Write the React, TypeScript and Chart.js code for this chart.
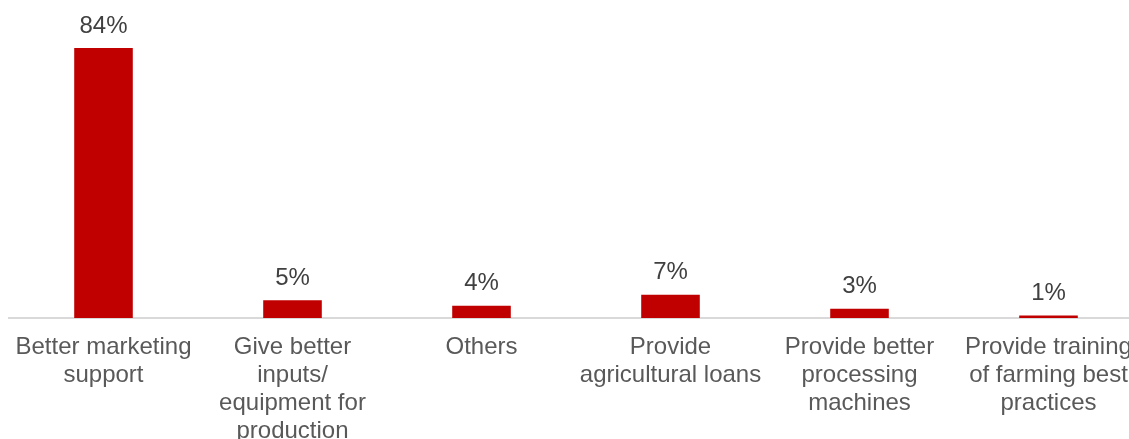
import React, { useEffect, useRef } from "react";
import { Chart, registerables } from "chart.js";

Chart.register(...registerables);

const categories: string[][] = [
  ["Better marketing", "support"],
  ["Give better", "inputs/", "equipment for", "production"],
  ["Others"],
  ["Provide", "agricultural loans"],
  ["Provide better", "processing", "machines"],
  ["Provide training", "of farming best", "practices"],
];
const values: number[] = [84, 5.5, 3.8, 7.2, 2.9, 0.8];
const valueLabels: string[] = ["84%", "5%", "4%", "7%", "3%", "1%"];

const FONT = "'Liberation Sans', Arial, sans-serif";

const valueLabelPlugin = {
  id: "valueLabels",
  afterDatasetsDraw(chart: any) {
    const ctx = chart.ctx;
    const meta = chart.getDatasetMeta(0);
    ctx.save();
    ctx.font = `24px ${FONT}`;
    ctx.fillStyle = "#404040";
    ctx.textAlign = "center";
    ctx.textBaseline = "middle";
    meta.data.forEach((bar: any, i: number) => {
      ctx.fillText(valueLabels[i], bar.x, bar.y - 22);
    });
    ctx.restore();
  },
};

export default function App() {
  const ref = useRef<HTMLCanvasElement>(null);
  useEffect(() => {
    document.body.style.margin = "0";
    document.documentElement.style.overflow = "hidden";
    const chart = new Chart(ref.current!, {
      type: "bar",
      data: {
        labels: categories,
        datasets: [
          {
            data: values,
            backgroundColor: "#C00000",
            borderWidth: 0,
            barPercentage: 0.62,
            categoryPercentage: 0.5,
          },
        ],
      },
      options: {
        responsive: false,
        animation: false,
        layout: { padding: { top: 48, left: 9, right: 0, bottom: 0 } },
        plugins: { legend: { display: false }, tooltip: { enabled: false } },
        scales: {
          x: {
            grid: { display: false, drawTicks: false },
            border: { display: true, color: "#d9d9d9", width: 2 },
            ticks: {
              color: "#595959",
              font: { family: FONT, size: 24, lineHeight: 28 / 24 },
              padding: 15,
              maxRotation: 0,
              autoSkip: false,
            },
            afterFit(scale: any) {
              scale.height = 121;
              scale.paddingLeft = 0;
              scale.paddingRight = 0;
            },
          },
          y: {
            display: false,
            min: 0,
            max: 84,
          },
        },
      },
      plugins: [valueLabelPlugin],
    });
    return () => chart.destroy();
  }, []);
  return (
    <div style={{ width: 1143, height: 439 }}>
      <canvas ref={ref} width={1143} height={439} style={{ display: "block" }} />
    </div>
  );
}
